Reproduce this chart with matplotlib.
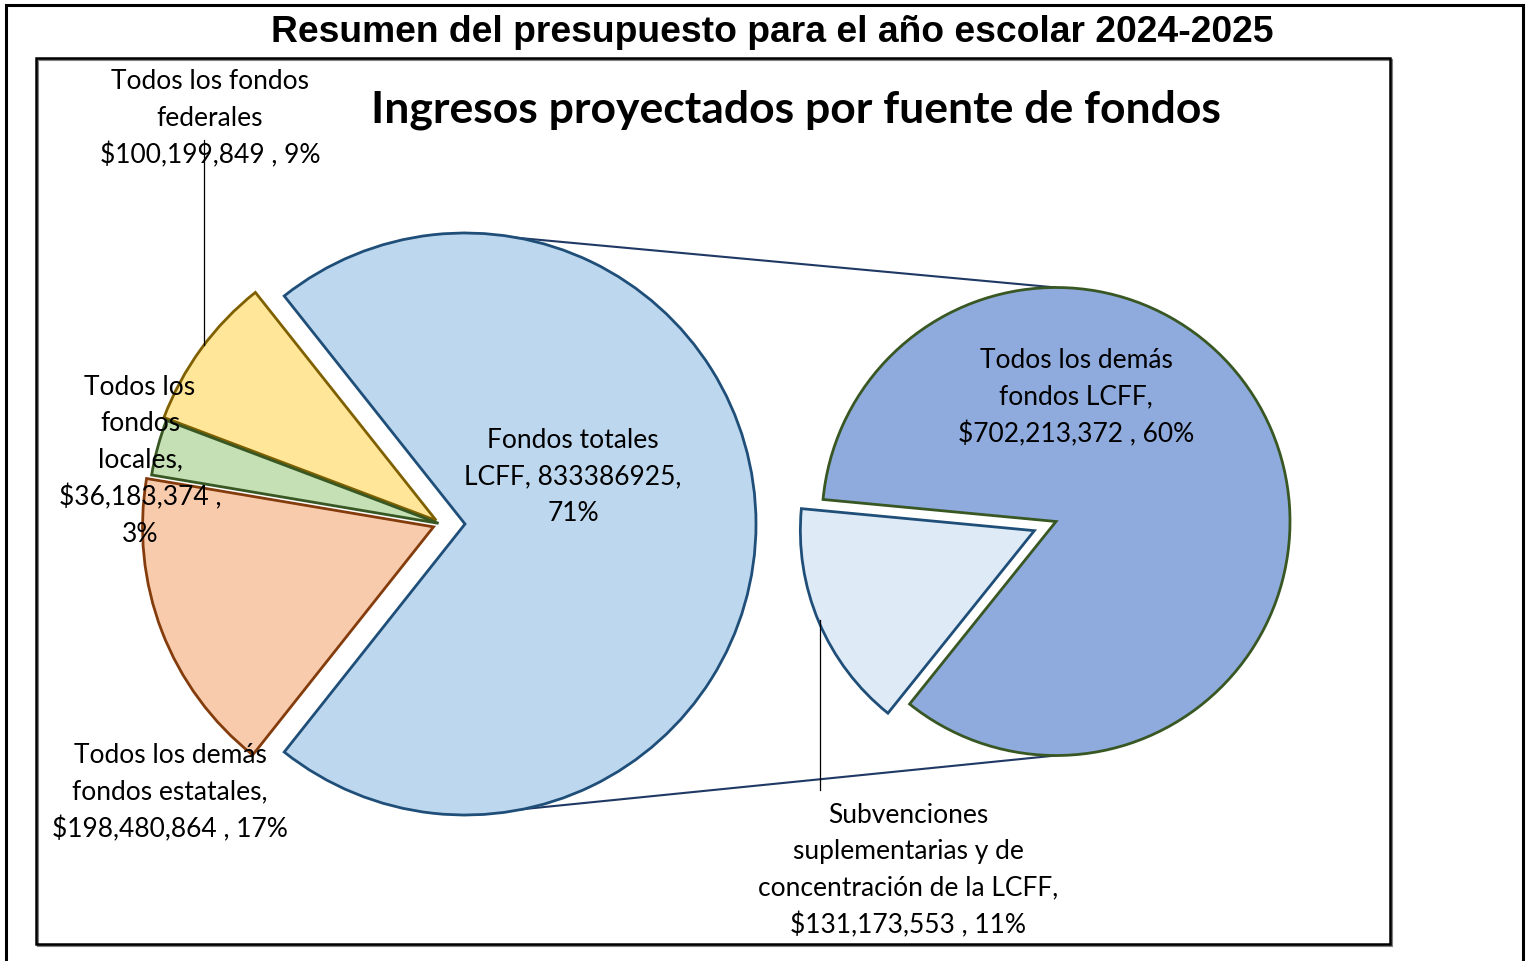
import matplotlib
matplotlib.use("Agg")
import matplotlib.pyplot as plt
from matplotlib.patches import Rectangle

# datos del presupuesto 2024-2025
fuentes = ["Fondos totales LCFF", "Todos los fondos federales",
           "Todos los fondos locales", "Todos los demás fondos estatales"]
ingresos = [833386925, 100199849, 36183374, 198480864]

fuentes_lcff = ["Subvenciones suplementarias y de concentración de la LCFF",
                "Todos los demás fondos LCFF"]
ingresos_lcff = [131173553, 702213372]

etiquetas_izq = ["Fondos totales\nLCFF, {v},\n{p}%",
                 "Todos los fondos\nfederales\n${v:,} , {p}%",
                 "Todos los\nfondos\nlocales,\n${v:,} ,\n{p}%",
                 "Todos los demás\nfondos estatales,\n${v:,} , {p}%"]
etiquetas_der = ["Subvenciones\nsuplementarias y de\nconcentración de la LCFF,\n${v:,} , {p}%",
                 "Todos los demás\nfondos LCFF,\n${v:,} , {p}%"]

colores_izq = ["#BDD7EE", "#FFE699", "#C5E0B4", "#F8CBAD"]
bordes_izq = ["#1F4E79", "#7F6000", "#385723", "#843C0C"]
colores_der = ["#DEEBF7", "#8FAADC"]
bordes_der = ["#1F4E79", "#385723"]

W, H = 1532, 961
total = sum(ingresos)
fuente_txt = ["Lato", "DejaVu Sans"]

fig = plt.figure(figsize=(W / 100, H / 100), dpi=100)
ax = fig.add_axes([0, 0, 1, 1])

# pastel principal (explode en pixeles, radio en pixeles)
c1, r1 = (441, H - 524), 291
sep_lcff = 24
frac_lcff = ingresos[0] / total
w1, _ = ax.pie(ingresos, center=c1, radius=r1, startangle=-frac_lcff * 180,
               counterclock=True, explode=[sep_lcff, 6, 2.5, 8],
               wedgeprops=dict(linewidth=2.0, joinstyle="miter"))
for w, fc, ec in zip(w1, colores_izq, bordes_izq):
    w.set_facecolor(fc)
    w.set_edgecolor(ec)

# pastel secundario (desglose LCFF)
c2, r2 = (1056, H - 521.5), 234
w2, _ = ax.pie(ingresos_lcff, center=c2, radius=r2, startangle=174.6,
               counterclock=True, explode=[23.5, 0.0],
               wedgeprops=dict(linewidth=2.0, joinstyle="miter"))
for w, fc, ec in zip(w2, colores_der, bordes_der):
    w.set_facecolor(fc)
    w.set_edgecolor(ec)

# lineas de conexion entre pasteles
x_lcff = c1[0] + sep_lcff
ax.plot([x_lcff, c2[0]], [c1[1] + r1, c2[1] + r2], color="#1F3864", lw=1.5, zorder=0)
ax.plot([x_lcff, c2[0]], [c1[1] - r1, c2[1] - r2], color="#1F3864", lw=1.5, zorder=0)

# lineas guia
ax.plot([204, 204], [H - 140, H - 345], color="black", lw=0.9)
ax.plot([820, 820], [H - 620, H - 790], color="black", lw=0.9)

# etiquetas
pos_izq = [(573, 477), (210, 119), (140, 461), (170, 793)]
for et, v, (x, y) in zip(etiquetas_izq, ingresos, pos_izq):
    ax.text(x, H - y, et.format(v=v, p=round(v / total * 100)), ha="center", va="center",
            fontsize=19, family=fuente_txt, linespacing=1.56, zorder=5)
pos_der = [(908, 870.5), (1076, 398)]
for et, v, (x, y) in zip(etiquetas_der, ingresos_lcff, pos_der):
    ax.text(x, H - y, et.format(v=v, p=round(v / total * 100)), ha="center", va="center",
            fontsize=19, family=fuente_txt, linespacing=1.56, zorder=5)

# titulos
ax.text(772, H - 32, "Resumen del presupuesto para el año escolar 2024-2025",
        ha="center", va="center", fontsize=26.8, fontweight="bold", family="Liberation Sans")
ax.text(796, H - 110, "Ingresos proyectados por fuente de fondos",
        ha="center", va="center", fontsize=32, fontweight="bold", family=fuente_txt)

# marcos
ax.add_patch(Rectangle((38, H - 946), 1354, 886, fill=False, ec="#808080", lw=1.5, zorder=1))
ax.add_patch(Rectangle((36, H - 944), 1354, 886, fill=False, ec="black", lw=1.8, zorder=1))
ax.plot([5.5, 5.5, 1522.5, 1522.5], [0, H - 4.5, H - 4.5, 0], color="black", lw=2.2,
        solid_joinstyle="miter")

ax.set_xlim(0, W)
ax.set_ylim(0, H)
ax.set_aspect("equal")
ax.axis("off")

fig.savefig("out.png", dpi=100)
